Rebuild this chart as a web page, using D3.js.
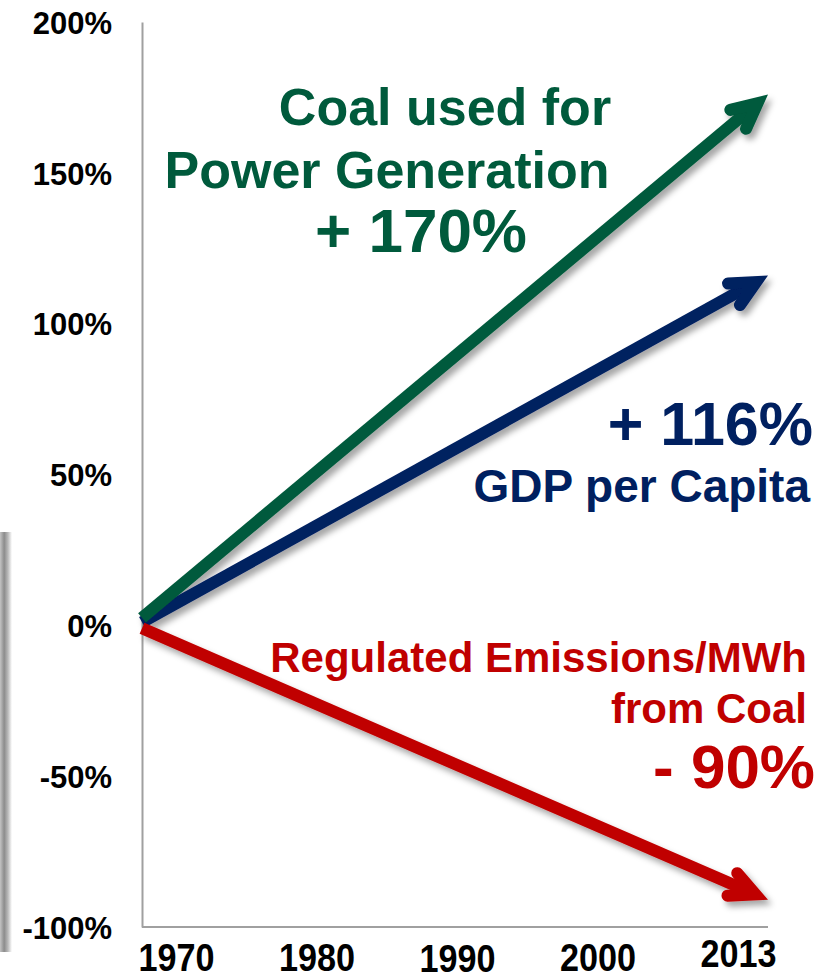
<!DOCTYPE html>
<html>
<head>
<meta charset="utf-8">
<script src="https://cdn.jsdelivr.net/npm/d3@7"></script>
<style>
  body { margin: 0; background: #fff; }
  svg { display: block; font-family: "Liberation Sans", Arial, sans-serif; font-weight: bold; }
</style>
</head>
<body>
<div id="chart"></div>
<script>
// Data
var years = ["1970", "1980", "1990", "2000", "2013"];
var yTicks = [-100, -50, 0, 50, 100, 150, 200];
var seriesNames = ["GDP per Capita", "Coal used for Power Generation", "Regulated Emissions/MWh from Coal"];
var startValues = [1, 2.5, -1];     // % change in 1970
var endValues = [116, 176, -91];    // % change in 2013 (arrow tips)
var changeLabels = ["+ 116%", "+ 170%", "- 90%"];
var seriesColors = ["#002060", "#005A3C", "#C00000"];

function init() {
  var w = 833;
  var h = 979;

  var svg = d3.select("#chart")
    .append("svg")
    .attr("width", w)
    .attr("height", h);

  var defs = svg.append("defs");

  // soft shadow under the arrows
  var filter = defs.append("filter")
    .attr("id", "shadow")
    .attr("x", "-20%").attr("y", "-20%")
    .attr("width", "140%").attr("height", "140%");
  filter.append("feDropShadow")
    .attr("dx", 4)
    .attr("dy", 5)
    .attr("stdDeviation", 3)
    .attr("flood-color", "#000")
    .attr("flood-opacity", 0.35);

  // grey edge on the far left
  var grad = defs.append("linearGradient")
    .attr("id", "edge")
    .attr("x1", "0%").attr("x2", "100%");
  grad.append("stop").attr("offset", "0%").attr("stop-color", "#c4c4c4");
  grad.append("stop").attr("offset", "35%").attr("stop-color", "#8c8c8c");
  grad.append("stop").attr("offset", "65%").attr("stop-color", "#b8b8b8");
  grad.append("stop").attr("offset", "100%").attr("stop-color", "#ffffff");

  svg.append("rect")
    .attr("x", 0)
    .attr("y", 532)
    .attr("width", 12)
    .attr("height", 420)
    .attr("fill", "url(#edge)");

  //Set up Scales
  var yScale = d3.scaleLinear()
    .domain([-100, 200])
    .range([927, 22]);

  var xScale = d3.scaleLinear()
    .domain([+years[0], +years[years.length - 1]])
    .range([142, 768]);

  var xLabels = d3.scalePoint()
    .domain(years)
    .range([176, 738]);

  //Y axis
  var yAxis = d3.axisLeft(yScale)
    .tickValues(yTicks)
    .tickSize(0)
    .tickSizeOuter(0)
    .tickPadding(30)
    .tickFormat(function (d) { return d + "%"; });

  var gy = svg.append("g")
    .attr("transform", "translate(142,0)")
    .call(yAxis);
  gy.select(".domain")
    .attr("stroke", "#a0a0a0")
    .attr("stroke-width", 2);
  gy.selectAll("text")
    .attr("font-size", "31px")
    .attr("font-family", "Liberation Sans, Arial, sans-serif")
    .attr("font-weight", "bold")
    .attr("fill", "#000")
    .attr("dy", "0.36em");

  //X axis line
  svg.append("line")
    .attr("x1", xScale.range()[0])
    .attr("x2", xScale.range()[1])
    .attr("y1", yScale(-100))
    .attr("y2", yScale(-100))
    .attr("stroke", "#a0a0a0")
    .attr("stroke-width", 2);

  //Year labels
  var xAxis = d3.axisBottom(xLabels)
    .tickSize(0)
    .tickPadding(17);
  var gx = svg.append("g")
    .attr("transform", "translate(0," + yScale(-100) + ")")
    .call(xAxis);
  gx.select(".domain").remove();
  var nudge = { "1990": 1, "2013": -4 }; // labels sit a little uneven in the original
  gx.selectAll("text")
    .attr("font-size", "38px")
    .attr("font-family", "Liberation Sans, Arial, sans-serif")
    .attr("font-weight", "bold")
    .attr("fill", "#000")
    .attr("transform", function (d) {
      return "translate(0," + (nudge[d] || 0) + ") scale(0.9,1)";
    });

  //Arrows
  var sw = 12;
  var half = 26 * Math.PI / 180;
  var arm = 28;
  var arrows = svg.append("g").attr("filter", "url(#shadow)");

  [0, 1, 2].forEach(function (i) {
    var x0 = xScale(+years[0]), y0 = yScale(startValues[i]);
    var x1 = xScale(+years[years.length - 1]), y1 = yScale(endValues[i]);
    var len = Math.hypot(x1 - x0, y1 - y0);
    var dx = (x1 - x0) / len, dy = (y1 - y0) / len;
    // move back so the mitred corner lands on the tip
    var back = (sw / 2) / Math.sin(half);
    var vx = x1 - dx * back, vy = y1 - dy * back;
    var c = Math.cos(half), s = Math.sin(half);
    var a1 = [vx - arm * (dx * c - dy * s), vy - arm * (dx * s + dy * c)];
    var a2 = [vx - arm * (dx * c + dy * s), vy - arm * (-dx * s + dy * c)];

    var g = arrows.append("g");
    g.append("line")
      .attr("x1", x0).attr("y1", y0)
      .attr("x2", vx - dx * 2).attr("y2", vy - dy * 2)
      .attr("stroke", seriesColors[i])
      .attr("stroke-width", sw);
    g.append("path")
      .attr("d", "M" + a1 + "L" + vx + "," + vy + "L" + a2)
      .attr("fill", "none")
      .attr("stroke", seriesColors[i])
      .attr("stroke-width", sw)
      .attr("stroke-linecap", "round")
      .attr("stroke-linejoin", "miter")
      .attr("stroke-miterlimit", 6);
  });

  //Labels
  var green = seriesColors[1], blue = seriesColors[0], red = seriesColors[2];

  function label(txt, x, y, size, color, anchor) {
    svg.append("text")
      .attr("x", x)
      .attr("y", y)
      .attr("text-anchor", anchor)
      .attr("font-size", size + "px")
      .attr("fill", color)
      .text(txt);
  }

  label("Coal used for", 445, 125, 52, green, "middle");
  label("Power Generation", 387, 188, 52, green, "middle");
  label(changeLabels[1], 421, 252, 62, green, "middle");

  label(changeLabels[0], 813, 445, 61, blue, "end");
  label("GDP per Capita", 810, 502, 46, blue, "end");

  label("Regulated Emissions/MWh", 807, 672, 42, red, "end");
  label("from Coal", 807, 723, 42, red, "end");
  label(changeLabels[2], 815, 788, 62, red, "end");
}

window.onload = function () {
  init();
}
</script>
</body>
</html>
